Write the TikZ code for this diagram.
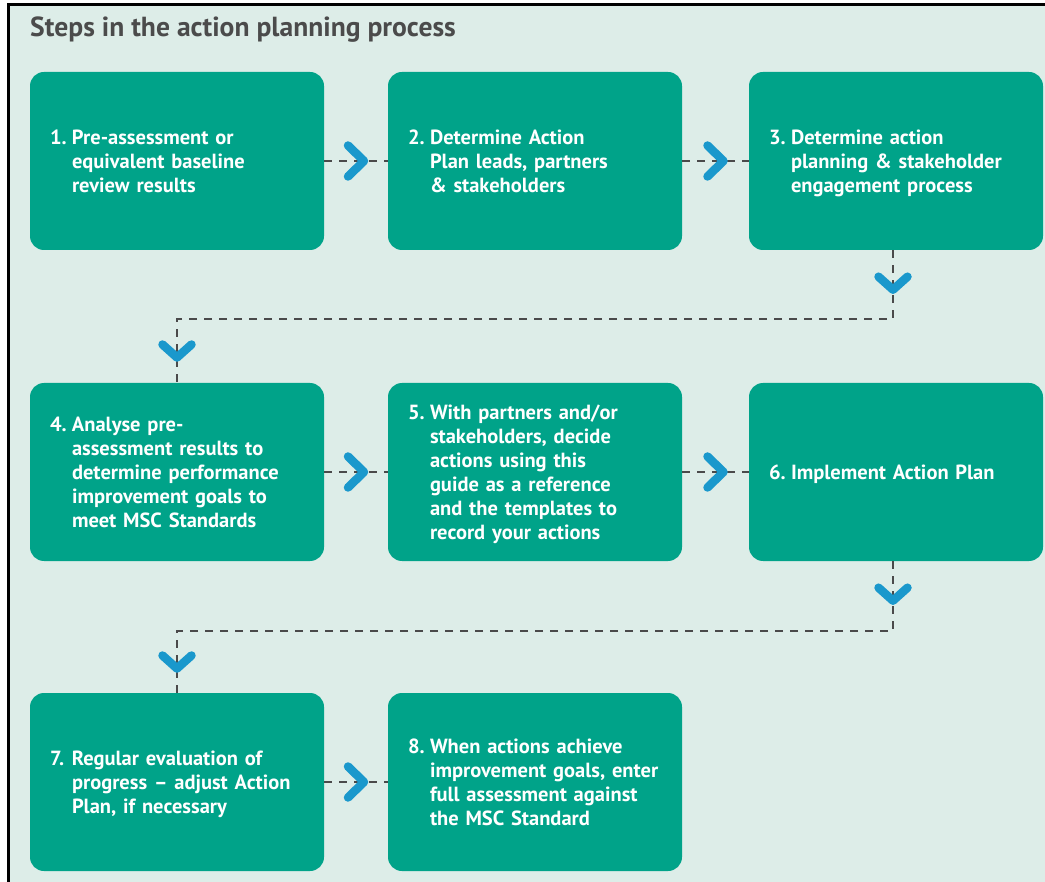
\documentclass[tikz,border=0pt]{standalone}
\usepackage{fontspec}
\setmainfont{PT Sans}
\usetikzlibrary{calc}
\definecolor{bgc}{HTML}{DDEDE8}
\definecolor{boxc}{HTML}{00A389}
\definecolor{chevc}{HTML}{1A98CC}
\definecolor{dashc}{HTML}{4A4A4A}
\definecolor{titlec}{HTML}{4B4B4B}
\tikzset{
 stepbox/.style={fill=boxc, rounded corners=14pt, minimum width=294pt, minimum height=178pt,
   text width=254pt, inner xsep=20pt, inner ysep=0pt, align=left, text=white,
   font=\bfseries\fontsize{20.5}{24}\selectfont},
 conn/.style={draw=dashc, line width=2pt, dash pattern=on 8pt off 7pt},
 chevron/.style={draw=chevc, line width=8.5pt, line cap=round, line join=round},
 chevr/.pic={\draw[chevron] (-8,-15.5) -- (8,0) -- (-8,15.5);},
 chevd/.pic={\draw[chevron] (-14.5,-6.5) -- (0,6.5) -- (14.5,-6.5);},
}
\newcommand{\steptxt}[1]{\noindent\raisebox{-3pt}[\height][\depth]{\begin{tabular}{@{}p{22pt}@{}l@{}}#1\end{tabular}}}
\begin{document}
\begin{tikzpicture}[x=1pt,y=-1pt]
\useasboundingbox (0,0) rectangle (1045,882);
\fill[white] (0,0) rectangle (1045,882);
\fill[bgc] (8,5) rectangle (1045,882);
\draw[line width=3pt, black] (8,882) -- (8,5) -- (1045,5);
\node[anchor=base west, text=titlec, font=\bfseries\fontsize{27.6}{31}\selectfont, inner sep=0pt] (title) at (30,37) {Steps in the action planning process};

\node[stepbox] (b1) at (177,161) {\steptxt{1.&Pre-assessment or\\ &equivalent baseline\\ &review results}};
\node[stepbox] (b2) at (535,161) {\steptxt{2.&Determine Action\\ &Plan leads, partners\\ &\& stakeholders}};
\node[stepbox] (b3) at (896,161) {\steptxt{3.&Determine action\\ &planning \& stakeholder\\ &engagement process}};
\node[stepbox] (b4) at (177,472) {\steptxt{4.&Analyse pre-\\ &assessment results to\\ &determine performance\\ &improvement goals to\\ &meet MSC Standards}};
\node[stepbox] (b5) at (535,472) {\steptxt{5.&With partners and/or\\ &stakeholders, decide\\ &actions using this\\ &guide as a reference\\ &and the templates to\\ &record your actions}};
\node[stepbox] (b6) at (896,472) {\steptxt{6.&Implement Action Plan}};
\node[stepbox] (b7) at (177,782) {\steptxt{7.&Regular evaluation of\\ &progress -- adjust Action\\ &Plan, if necessary}};
\node[stepbox] (b8) at (535,782) {\steptxt{8.&When actions achieve\\ &improvement goals, enter\\ &full assessment against\\ &the MSC Standard}};

% horizontal connectors
\draw[conn] (b1) -- (b2);
\draw[conn] (b2) -- (b3);
\draw[conn] (b4) -- (b5);
\draw[conn] (b5) -- (b6);
\draw[conn] (b7) -- (b8);
\coordinate (m12) at ($(b1.east)!0.5!(b2.west)$);
\coordinate (m23) at ($(b2.east)!0.5!(b3.west)$);
\coordinate (m45) at ($(b4.east)!0.5!(b5.west)$);
\coordinate (m56) at ($(b5.east)!0.5!(b6.west)$);
\coordinate (m78) at ($(b7.east)!0.5!(b8.west)$);
\pic at (m12) {chevr};
\pic at (m23) {chevr};
\pic at (m45) {chevr};
\pic at (m56) {chevr};
\pic at (m78) {chevr};

% return connectors
\coordinate (c1) at ($(b3.south)+(-3,69)$);
\coordinate (c2) at (b4.north |- c1);
\draw[conn] ($(b3.south)+(-3,0)$) -- (c1) -- (c2) -- (b4.north);
\coordinate (d1) at ($(b3.south)+(-3,33)$);
\coordinate (d2) at ($(c2)!0.5!(b4.north)$);
\pic at (d1) {chevd};
\pic at (d2) {chevd};

\coordinate (c3) at ($(b6.south)+(-3,70)$);
\coordinate (c4) at (b7.north |- c3);
\draw[conn] ($(b6.south)+(-3,0)$) -- (c3) -- (c4) -- (b7.north);
\coordinate (d3) at ($(b6.south)+(-3,33)$);
\coordinate (d4) at ($(c4)!0.5!(b7.north)$);
\pic at (d3) {chevd};
\pic at (d4) {chevd};
\end{tikzpicture}
\end{document}
